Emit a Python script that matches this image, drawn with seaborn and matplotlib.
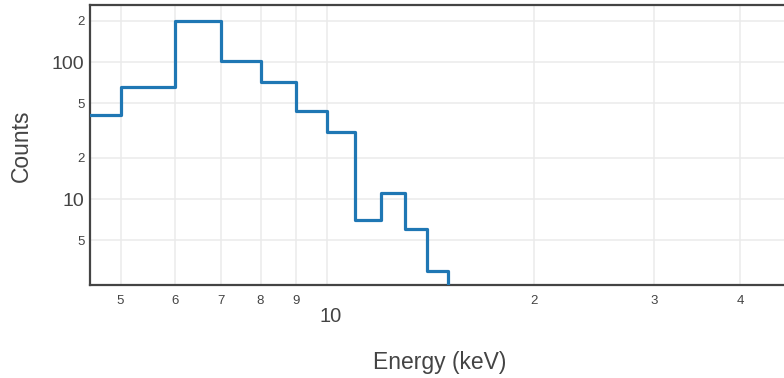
import matplotlib
matplotlib.use("Agg")
import matplotlib.pyplot as plt
import matplotlib.ticker as mticker
import matplotlib.transforms as mtransforms
import numpy as np
import pandas as pd
import seaborn as sns

# 1 keV wide energy bins (left edges) and their counts
bin_left_kev = [4, 5, 6, 7, 8, 9, 10, 11, 12, 13, 14, 15]
counts = [41, 66, 200, 102, 72, 44, 31, 7, 11, 6, 3, 0]

# tick positions and labels (log axes with digit-only minor labels)
x_major = [10]
x_major_labels = ["10"]
x_minor = [5, 6, 7, 8, 9, 20, 30, 40]
x_minor_labels = ["5", "6", "7", "8", "9", "2", "3", "4"]
y_major = [10, 100]
y_major_labels = ["10", "100"]
y_minor = [5, 20, 50, 200]
y_minor_labels = ["5", "2", "5", "2"]

sns.set_theme(style="white")
plt.rcParams["font.family"] = ["Liberation Sans", "DejaVu Sans"]

text_col = "#444444"
grid_col = "#ebebeb"

fig = plt.figure(figsize=(7.84, 3.78), dpi=100)
W, H = 784, 378
left, right, top, bottom = 90, 791, 5, 285
ax = fig.add_axes([left / W, 1 - bottom / H, (right - left) / W, (bottom - top) / H])

df = pd.DataFrame({"energy": bin_left_kev, "counts": counts})
sns.lineplot(data=df, x="energy", y="counts", ax=ax, drawstyle="steps-post",
             color="#1f77b4", linewidth=2.3, zorder=3)

ax.set_xscale("log")
ax.set_yscale("log", nonpositive="clip")
ax.set_xlim(4.513, 47.46)
ax.set_ylim(2.36, 261)

ax.xaxis.set_major_locator(mticker.FixedLocator(x_major))
ax.xaxis.set_major_formatter(mticker.FixedFormatter(x_major_labels))
ax.xaxis.set_minor_locator(mticker.FixedLocator(x_minor))
ax.xaxis.set_minor_formatter(mticker.FixedFormatter(x_minor_labels))
ax.yaxis.set_major_locator(mticker.FixedLocator(y_major))
ax.yaxis.set_major_formatter(mticker.FixedFormatter(y_major_labels))
ax.yaxis.set_minor_locator(mticker.FixedLocator(y_minor))
ax.yaxis.set_minor_formatter(mticker.FixedFormatter(y_minor_labels))

ax.tick_params(axis="x", which="major", length=0, pad=16, labelsize=14.5, labelcolor=text_col)
ax.tick_params(axis="x", which="minor", length=0, pad=7.5, labelsize=9.5, labelcolor=text_col)
ax.tick_params(axis="y", which="major", length=0, pad=4, labelsize=14, labelcolor=text_col)
ax.tick_params(axis="y", which="minor", length=0, pad=4, labelsize=9.5, labelcolor=text_col)

# nudge the decade label slightly right of its gridline
shift = mtransforms.ScaledTranslation(4 / 100, 0, fig.dpi_scale_trans)
for lbl in ax.xaxis.get_majorticklabels():
    lbl.set_transform(lbl.get_transform() + shift)

ax.grid(True, which="both", color=grid_col, linewidth=1.1, zorder=0)
ax.set_axisbelow(True)

for side in ["left", "top", "bottom"]:
    ax.spines[side].set_color(text_col)
    ax.spines[side].set_linewidth(1.6)
ax.spines["right"].set_visible(False)

ax.set_xlabel("")
ax.set_ylabel("")
fig.text(440 / W, 1 - 362 / H, "Energy (keV)", ha="center", va="center",
         fontsize=16.5, color=text_col)
fig.text(21 / W, 1 - 146 / H, "Counts", ha="center", va="center",
         rotation=90, fontsize=16.5, color=text_col)

fig.savefig("out.png", dpi=100)
